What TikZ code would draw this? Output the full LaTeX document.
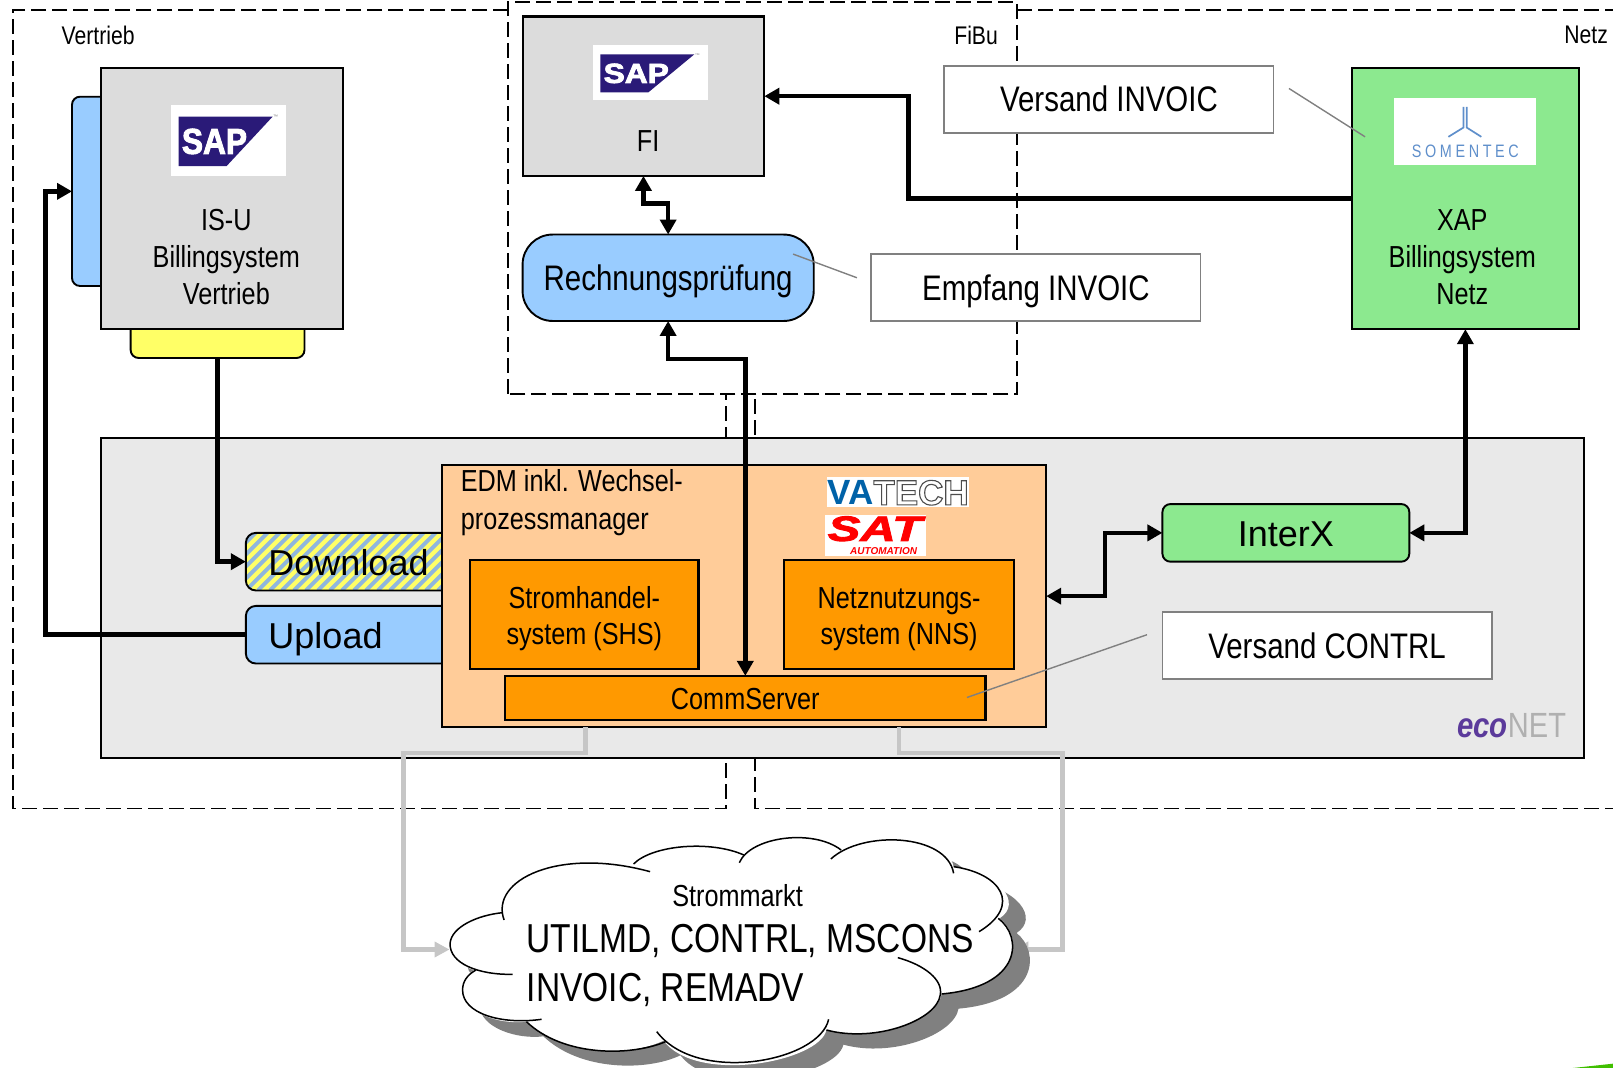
\documentclass[tikz,border=0pt]{standalone}
\usepackage{fontspec}
\setmainfont[FakeStretch=0.83]{Liberation Sans}
\newfontfamily\widef{Liberation Sans}
\newfontfamily\satf[FakeStretch=1.4]{Liberation Sans}
\newfontfamily\somf[LetterSpace=20,FakeStretch=0.8]{Liberation Sans}
\usetikzlibrary{arrows.meta,calc}
\definecolor{boxgray}{HTML}{DCDCDC}
\definecolor{panelgray}{HTML}{E9E9E9}
\definecolor{tabblue}{HTML}{99CCFF}
\definecolor{tabyellow}{HTML}{FFFF66}
\definecolor{xapgreen}{HTML}{8CE98F}
\definecolor{edmpeach}{HTML}{FFCC99}
\definecolor{sysorange}{HTML}{FF9900}
\definecolor{sapblue}{HTML}{2A1A78}
\definecolor{stripeblue}{HTML}{8FB6DE}
\definecolor{flowgray}{HTML}{C6C6C6}
\definecolor{notegray}{HTML}{808080}
\definecolor{somblue}{HTML}{5F8FCB}
\definecolor{vablue}{HTML}{0062A8}
\definecolor{ecopurple}{HTML}{5B3A9B}
\newcommand{\fs}[1]{\fontsize{#1}{37}\selectfont}
\newcommand{\bx}[7][]{\node[inner sep=0pt,outer sep=0pt,align=center,#1,minimum width={(#4-#2)*1.0287pt},minimum height={(#5-#3)*1.0287pt}] (#6) at ({(#2+#4)/2},{(#3+#5)/2}) {#7};}
\newcommand{\saplogo}[4]{%
 \begin{scope}[shift={(#1,#2)},yscale=#3]
  \fill[white] (0,0) rectangle (112,69);
  \fill[sapblue] (7.7,11.4) -- (99,11.4) -- (54.3,59.4) -- (7.7,59.4) -- cycle;
  \node[transform shape,inner sep=0pt,text=white] (#4) at (42.5,35.5) {\widef\bfseries\fontsize{36}{36}\selectfont\addfontfeature{FakeStretch=0.88}\special{pdf:code 2 Tr 0.9 w 1 1 1 RG}SAP\special{pdf:code 0 Tr 0 G}};
  \node[transform shape,inner sep=0pt,text=gray] (#4tm) at (102,12) {\widef\fontsize{5}{5}\selectfont™};
 \end{scope}}
\tikzset{
 realm/.style={draw=black,line width=1.8pt,dash pattern=on 15pt off 6pt},
 sysbox/.style={draw=black,line width=2.1pt},
 roundbox/.style={draw=black,line width=1.9pt,rounded corners=#1},
 notebox/.style={draw=notegray,line width=1.8pt,fill=white},
 noteline/.style={draw=notegray,line width=1.4pt},
 txt/.style={inner sep=0pt,outer sep=0pt,align=center},
 cap35/.style={font=\fontsize{35.5}{37}\selectfont,text height=25pt,text depth=0pt},
 cap36/.style={font=\widef\fontsize{36}{37}\selectfont,text height=28pt,text depth=0pt},
 cap30/.style={font=\fontsize{30.4}{37}\selectfont,text height=24pt,text depth=0pt},
 conn/.style={draw=black,line width=4.6pt,miter limit=10},
 arrowtip/.style={-{Triangle[length=15pt,width=16pt]}},
 bothtip/.style={{Triangle[length=15pt,width=16pt]}-{Triangle[length=15pt,width=16pt]}},
 flow/.style={draw=flowgray,line width=4.6pt,-{Triangle[length=15pt,width=15pt]}},
}
\begin{document}
\begin{tikzpicture}[x=1.0287pt,y=-1.0287pt,line join=miter]
\useasboundingbox (0,0) rectangle (1568,1038.2);
% realms
\draw[realm] (494,10) -- (13,10) -- (13,786) -- (706,786) -- (706,383);
\draw[realm] (989,10) -- (1575,10);
\draw[realm] (1575,786) -- (734,786) -- (734,383);
\draw[realm] (494,383) -- (494,2) -- (989,2) -- (989,383) -- cycle;
\node[txt,anchor=west,font=\fs{25.5}] (lv) at (60,34) {Vertrieb};
\node[txt,anchor=east,font=\fs{25.5}] (lf) at (970,34) {FiBu};
\node[txt,anchor=east,font=\fs{25.5}] (ln) at (1563,34) {Netz};
% panel
\bx[sysbox,fill=panelgray]{98}{426}{1540}{737}{panel}{}
\node[txt,anchor=base east,font=\fs{35}] (econet) at (1522.3,716.6) {{\widef\bfseries\itshape\addfontfeature{FakeStretch=0.84}\color{ecopurple}eco}{\color[HTML]{B0B0B0}NET}};
% Vertrieb system
\bx[roundbox=8pt,fill=tabblue]{70}{94}{126}{278}{bluetab}{}
\bx[roundbox=8pt,fill=tabyellow]{127}{300}{296}{348}{yellowtab}{}
\bx[sysbox,fill=boxgray]{98}{66}{333}{320}{isu}{}
\saplogo{166}{102}{1}{saplogoa}
\node[txt,font=\fs{30.4}] (isutext) at (220,249.7) {IS-U\\Billingsystem\\Vertrieb};
% FI
\bx[sysbox,fill=boxgray]{508}{16}{743}{171}{fi}{}
\saplogo{576}{44}{0.77}{saplogob}
\node[txt,font=\fs{30.4}] (fitext) at (630,137) {FI};
\bx[roundbox=30pt,fill=tabblue,cap35]{508}{228}{791}{312}{rech}{Rechnungsprüfung}
% notes
\bx[notebox,cap35]{918}{64}{1238}{129}{vinvoic}{Versand INVOIC}
\bx[notebox,cap35]{847}{247}{1167}{312}{einvoic}{Empfang INVOIC}
% XAP
\bx[sysbox,fill=xapgreen]{1314}{66}{1535}{320}{xap}{}
\fill[white] (1355,95.5) rectangle (1493,160.5);
\draw[somblue,line width=1.7pt] (1422.6,104) -- (1422.6,124) -- (1408,133);
\draw[somblue,line width=1.7pt] (1425.8,104) -- (1425.8,124) -- (1440,133);
\node[txt,text=somblue] (somentec) at (1424.5,147.5) {\somf\fontsize{18}{18}\selectfont SOMENTEC};
\node[txt,font=\fs{30.4}] (xaptext) at (1421.5,249.7) {XAP\\Billingsystem\\Netz};
% Download / Upload
\bx[roundbox=10pt,fill=tabyellow,path picture={
  \foreach \i in {-60,-48,...,240}
    \draw[stripeblue,line width=4pt] ([xshift=\i pt]path picture bounding box.south west) -- ++(70pt,70pt);
 },cap36,text width=217pt,align=left]{239}{518}{450}{574}{download}{\hspace*{22.6pt}Download}
\bx[roundbox=10pt,fill=tabblue,cap36,text width=217pt,align=left]{239}{589}{450}{645}{upload}{\hspace*{22.6pt}Upload}
% EDM
\bx[sysbox,fill=edmpeach]{430}{452}{1017}{707}{edm}{}
\node[txt,anchor=west,align=left,font=\fontsize{30.4}{38}\selectfont] (edmtext) at (448,489) {EDM inkl. Wechsel-\\prozessmanager};
\bx[sysbox,fill=sysorange,font=\fontsize{30.4}{35.5}\selectfont]{457}{544}{679}{650}{shs}{\rule{0pt}{31.5pt}Stromhandel-\\system (SHS)}
\bx[sysbox,fill=sysorange,font=\fontsize{30.4}{35.5}\selectfont]{762}{544}{986}{650}{nns}{\rule{0pt}{31.5pt}Netznutzungs-\\system (NNS)}
\bx[sysbox,fill=sysorange,cap30]{491}{657}{958}{700}{comm}{CommServer}
% VATECH / SAT logos
\fill[white] (804,464) rectangle (942,493);
\node[txt,anchor=center] (vatech) at (873,479) {\widef\bfseries\fontsize{35}{35}\selectfont{\color{vablue}VA}\special{pdf:code 1 Tr 1.1 w 0.3 G}TECH\special{pdf:code 0 Tr 0 G}};
\fill[white] (802,501) rectangle (900,540);
\node[txt,text=red] (sat) at (850.5,514) {\satf\bfseries\itshape\fontsize{35}{35}\selectfont\special{pdf:code 2 Tr 0.9 w 1 0 0 RG}SAT\special{pdf:code 0 Tr 0 G}};
\node[txt,text=red] (satauto) at (859,535.5) {\widef\bfseries\itshape\fontsize{10}{10}\selectfont AUTOMATION};
% InterX etc
\bx[roundbox=8pt,fill=xapgreen,cap36]{1130}{490}{1370}{546}{interx}{InterX}
\bx[notebox,cap35]{1130}{595}{1450}{660}{vcontrl}{Versand CONTRL}
% note lines
\coordinate (n1a) at (1253,86); \coordinate (n1b) at (1327,133);
\coordinate (n2a) at (771,247); \coordinate (n2b) at (833,270);
\coordinate (n3a) at (1115,617); \coordinate (n3b) at (940,678);
\draw[noteline] (n1a) -- (n1b);
\draw[noteline] (n2a) -- (n2b);
\draw[noteline] (n3a) -- (n3b);
% connectors
\draw[conn,arrowtip] (yellowtab.south) |- (download.west);
\draw[conn,arrowtip] (upload.west) -- ++(-195,0) |- (bluetab.west);
\coordinate (xapbend) at (883,193);
\draw[conn,arrowtip] (xap.west) -- (xapbend) |- (fi.east);
\draw[conn,bothtip] (fi.south) -- ++(0,27) -| (rech.north);
\draw[conn,bothtip] (rech.south) -- ++(0,37) -| (comm.north);
\draw[conn,bothtip] (interx.west) -- ++(-56,0) |- (edm.east);
\draw[conn,bothtip] (interx.east) -| (xap.south);
% market flows
\coordinate (fla) at (569,707); \coordinate (flb) at (392,732); \coordinate (flc) at (437,923);
\coordinate (fra) at (874,707); \coordinate (frb) at (1033,732); \coordinate (frc) at (985,923);
\draw[flow] (fla) |- (flb) |- (flc);
\draw[flow] (fra) |- (frb) |- (frc);
% cloud
\begin{scope}[x=0.4464pt,y=-0.3333pt,shift={(380pt,-790pt)}]
\def\cloudpath{(272,368) .. controls (250,280) and (390,175) .. (568,222) .. controls (610,165) and (740,150) .. (812,195) .. controls (840,135) and (970,120) .. (1030,180) .. controls (1090,125) and (1270,130) .. (1285,230) .. controls (1390,250) and (1440,340) .. (1388,385) .. controls (1440,440) and (1440,590) .. (1258,612) .. controls (1248,690) and (1110,760) .. (1000,720) .. controls (985,815) and (710,885) .. (635,752) .. controls (560,800) and (410,800) .. (328,695) .. controls (270,705) and (185,670) .. (185,600) .. controls (185,575) and (195,555) .. (210,540) .. controls (165,520) and (155,500) .. (157,460) .. controls (160,410) and (220,375) .. (272,368) -- cycle}
\fill[gray!100!black,shift={(38,44)}] \cloudpath;
\fill[white] \cloudpath;
\begin{scope}[line width=1.5pt,black]
\draw (278,390) .. controls (245,270) and (400,170) .. (605,245);
\draw (568,222) .. controls (610,165) and (740,150) .. (815,195);
\draw (805,218) .. controls (830,140) and (970,115) .. (1033,180);
\draw (1010,207) .. controls (1080,120) and (1270,130) .. (1285,250);
\draw (1285,230) .. controls (1390,250) and (1440,345) .. (1342,425);
\draw (1385,385) .. controls (1440,440) and (1440,590) .. (1258,612);
\draw (1160,503) .. controls (1220,525) and (1262,570) .. (1255,615) .. controls (1248,690) and (1110,760) .. (1000,720);
\draw (1005,688) .. controls (985,815) and (710,885) .. (620,725);
\draw (640,755) .. controls (560,800) and (410,800) .. (328,695);
\draw (362,688) .. controls (270,705) and (185,670) .. (185,600) .. controls (185,575) and (195,555) .. (215,540);
\draw (297,553) .. controls (220,555) and (155,520) .. (157,460) .. controls (160,410) and (220,375) .. (275,368);
\end{scope}
\end{scope}
\node[txt,font=\fs{30.4}] (cloudtitle) at (717,871) {Strommarkt};
\node[txt,anchor=west,align=left,font=\fontsize{40.4}{49.4}\selectfont] (cloudtext) at (512,938.5) {UTILMD, CONTRL, MSCONS\\INVOIC, REMADV};
% corner
\fill[green!50!olive] (1529,1038.2) -- (1568,1034) -- (1568,1038.2) -- cycle;
\end{tikzpicture}
\end{document}
